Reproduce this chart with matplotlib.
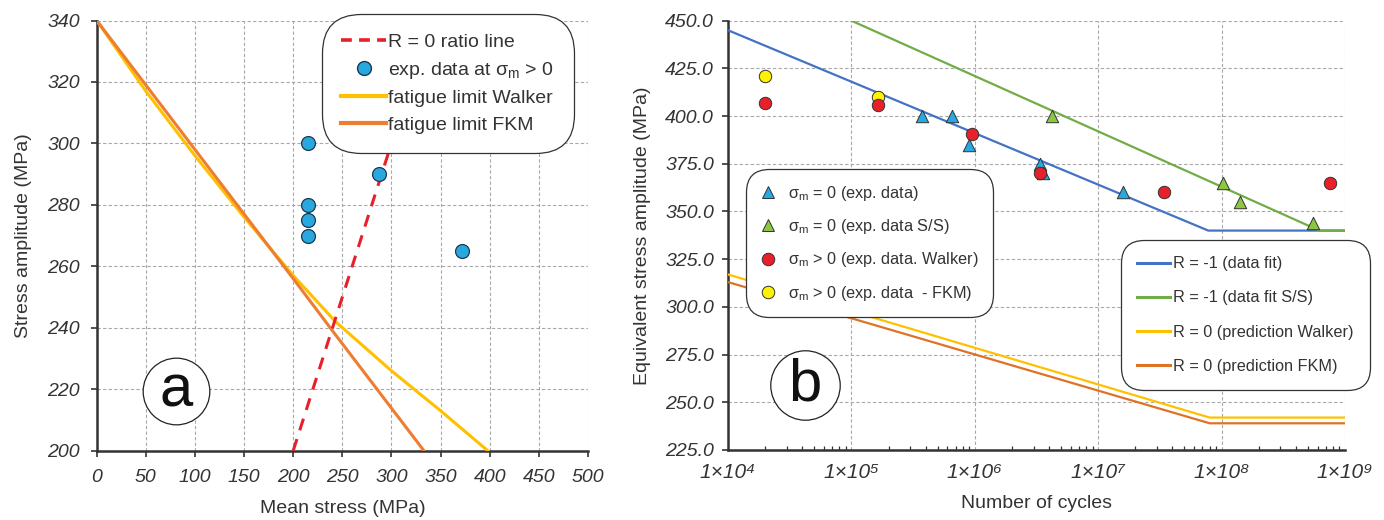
import math
import matplotlib.pyplot as plt
from matplotlib.lines import Line2D
import matplotlib.ticker as mticker

plt.rcParams['font.family'] = ['Liberation Sans', 'DejaVu Sans']
plt.rcParams['mathtext.fontset'] = 'custom'
plt.rcParams['mathtext.it'] = 'Liberation Sans:italic'
plt.rcParams['mathtext.rm'] = 'Liberation Sans'

# ---- panel a data ----
r0_mean = [200, 340]
r0_amp = [200, 340]
exp_mean = [215, 215, 215, 215, 287, 372]
exp_amp = [300, 280, 275, 270, 290, 265]
walker_mean = [0, 50, 100, 150, 200, 243, 300, 350, 398]
walker_amp = [340, 317, 296, 276, 257, 242, 226, 213, 200]
fkm_mean = [0, 100, 200, 240, 333]
fkm_amp = [340, 298, 256, 239, 200]

# ---- panel b data ----
fit_n = [1e4, 7.8e7, 1e9]
fit_s = [445, 340, 340]
fit_ss_n = [1e5, 6.2e8, 1e9]
fit_ss_s = [450, 340, 340]
walker_n = [1e4, 8e7, 1e9]
walker_s = [317, 242, 242]
fkm_n = [1e4, 8e7, 1e9]
fkm_s = [313, 239, 239]

tri_n = [3.7e5, 6.5e5, 9e5, 3.4e6, 3.6e6, 1.6e7]
tri_s = [400, 400, 385, 375, 370, 360]
tri_ss_n = [4.2e6, 1.02e8, 1.4e8, 5.5e8]
tri_ss_s = [400, 365, 355, 344]
red_n = [2e4, 1.65e5, 9.5e5, 3.4e6, 3.4e7, 7.5e8]
red_s = [407, 406, 390.5, 370, 360, 365]
yel_n = [2e4, 1.65e5]
yel_s = [421, 410]

SUP = str.maketrans('0123456789', '⁰¹²³⁴⁵⁶⁷⁸⁹')

W, H = 1384, 520
fig = plt.figure(figsize=(W / 100, H / 100), dpi=100)
ax1 = fig.add_axes([96.7 / W, 1 - 450.7 / H, (588 - 96.7) / W, (450.7 - 20.5) / H])
ax2 = fig.add_axes([728 / W, 1 - 450 / H, (1345 - 728) / W, (450 - 20.7) / H])

TXT = '#333333'
SM = r'σ$_{\mathregular{m}}$'


def style_axes(ax):
    for s in ['top', 'right']:
        ax.spines[s].set_visible(False)
    for s in ['left', 'bottom']:
        ax.spines[s].set_linewidth(1.8)
        ax.spines[s].set_color('#333333')
    ax.grid(True, linestyle=(0, (3, 2)), color='#a8a8a8', linewidth=0.8)
    ax.set_axisbelow(True)
    ax.tick_params(which='major', direction='out', length=4, width=1.2, colors=TXT,
                   labelsize=14)
    ax.tick_params(axis='y', pad=8)
    ax.tick_params(axis='x', pad=9)


def italic_ticks(ax):
    for lab in ax.get_xticklabels() + ax.get_yticklabels():
        lab.set_fontstyle('italic')
        lab.set_color(TXT)


def rounded(leg, r):
    fr = leg.get_frame()
    fr.set_boxstyle('round,pad=0,rounding_size=%s' % r)
    fr.set_linewidth(0.9)
    fr.set_edgecolor('#333333')


# ---- panel a ----
ax1.plot(walker_mean, walker_amp, color='#FFC000', lw=2.2, zorder=3)
ax1.plot(fkm_mean, fkm_amp, color='#ED7D31', lw=2.2, zorder=3)
ax1.plot(r0_mean, r0_amp, color='#E8202A', lw=2.2, ls=(0, (4, 3)), zorder=3)
ax1.scatter(exp_mean, exp_amp, s=100, color='#29A8E0', edgecolor='#1a3a50', lw=0.9, zorder=4)
ax1.set_xlim(0, 500)
ax1.set_ylim(200, 340)
ax1.set_xticks(range(0, 501, 50))
ax1.set_yticks(range(200, 341, 20))
style_axes(ax1)
ax1.set_xlabel('Mean stress (MPa)', fontsize=14, color=TXT, labelpad=10)
ax1.set_ylabel('Stress amplitude (MPa)', fontsize=14, color=TXT, labelpad=11)
ax1.plot([80.7], [219.4], marker='o', ms=48, mfc='white', mec='#222222', mew=0.9,
         ls='', zorder=6, clip_on=False)
ax1.text(80.7, 219.4, 'a', fontsize=43, ha='center', va='center', color='#111111', zorder=7)

h1 = [Line2D([], [], color='#E8202A', lw=2.6, ls=(0, (3, 2))),
      Line2D([], [], marker='o', ls='', ms=10, mfc='#29A8E0', mec='#1a3a50'),
      Line2D([], [], color='#FFC000', lw=3),
      Line2D([], [], color='#ED7D31', lw=3)]
l1 = ['R = 0 ratio line', 'exp. data at ' + SM + ' > 0', 'fatigue limit Walker',
      'fatigue limit FKM']
leg1 = fig.legend(h1, l1, loc='upper left', bbox_to_anchor=(322 / W, 1 - 14 / H),
                  borderaxespad=0, fontsize=14, frameon=True, framealpha=1,
                  handlelength=2.27, labelspacing=0.45, borderpad=1.0, handletextpad=0.15,
                  labelcolor=TXT)
rounded(leg1, 2.0)

# ---- panel b ----
ax2.set_xscale('log')
ax2.plot(fit_n, fit_s, color='#4472C4', lw=1.6, zorder=3)
ax2.plot(fit_ss_n, fit_ss_s, color='#70AD47', lw=1.6, zorder=3)
ax2.plot(walker_n, walker_s, color='#FFC000', lw=1.6, zorder=3)
ax2.plot(fkm_n, fkm_s, color='#DE7328', lw=1.6, zorder=3)
ax2.scatter(tri_n, tri_s, marker='^', s=80, color='#29A8E0', edgecolor='#333333', lw=0.7, zorder=4)
ax2.scatter(tri_ss_n, tri_ss_s, marker='^', s=80, color='#8DC63F', edgecolor='#333333', lw=0.7, zorder=4)
ax2.scatter(yel_n, yel_s, marker='o', s=80, color='#FFF200', edgecolor='#333333', lw=0.7, zorder=4)
ax2.scatter(red_n, red_s, marker='o', s=80, color='#E8202A', edgecolor='#333333', lw=0.7, zorder=4)
ax2.set_xlim(1e4, 1e9)
ax2.set_ylim(225, 450)
ax2.set_yticks([225 + 25 * i for i in range(10)])
ax2.yaxis.set_major_formatter(mticker.FormatStrFormatter('%.1f'))
ax2.xaxis.set_major_locator(mticker.LogLocator(base=10, numticks=10))
ax2.xaxis.set_major_formatter(mticker.FuncFormatter(
    lambda v, p: '1×10' + str(round(math.log10(v))).translate(SUP)))
ax2.xaxis.set_minor_locator(mticker.LogLocator(base=10, subs=range(2, 10), numticks=20))
ax2.xaxis.set_minor_formatter(mticker.NullFormatter())
style_axes(ax2)
ax2.tick_params(axis='y', pad=6)
ax2.tick_params(axis='x', which='minor', direction='in', length=3, width=0.9, colors=TXT)
ax2.tick_params(axis='x', which='major', length=0, pad=9, labelsize=15)
ax2.grid(False, which='minor')
ax2.set_xlabel('Number of cycles', fontsize=14, color=TXT, labelpad=10)
ax2.set_ylabel('Equivalent stress amplitude (MPa)', fontsize=14, color=TXT, labelpad=10)
ax2.plot([4.2e4], [259], marker='o', ms=50, mfc='white', mec='#222222', mew=0.9,
         ls='', zorder=6)
ax2.text(4.2e4, 259, 'b', fontsize=43, ha='center', va='center', color='#111111', zorder=7)

h2 = [Line2D([], [], marker='^', ls='', ms=9, mfc='#29A8E0', mec='#333333', mew=0.7),
      Line2D([], [], marker='^', ls='', ms=9, mfc='#8DC63F', mec='#333333', mew=0.7),
      Line2D([], [], marker='o', ls='', ms=9, mfc='#E8202A', mec='#333333', mew=0.7),
      Line2D([], [], marker='o', ls='', ms=9, mfc='#FFF200', mec='#333333', mew=0.7)]
l2 = [SM + ' = 0 (exp. data)', SM + ' = 0 (exp. data S/S)', SM + ' > 0 (exp. data. Walker)',
      SM + ' > 0 (exp. data  - FKM)']
leg2 = fig.legend(h2, l2, loc='upper left', bbox_to_anchor=(746 / W, 1 - 169 / H),
                  borderaxespad=0, fontsize=11.7, frameon=True, framealpha=1,
                  handlelength=0.9, labelspacing=0.88, borderpad=0.9, handletextpad=0.77,
                  labelcolor=TXT)
rounded(leg2, 1.4)

h3 = [Line2D([], [], color='#4472C4', lw=2.2), Line2D([], [], color='#70AD47', lw=2.2),
      Line2D([], [], color='#FFC000', lw=2.2), Line2D([], [], color='#DE7328', lw=2.2)]
l3 = ['R = -1 (data fit)', 'R = -1 (data fit S/S)', 'R = 0 (prediction Walker)',
      'R = 0 (prediction FKM)']
leg3 = fig.legend(h3, l3, loc='upper left', bbox_to_anchor=(1121 / W, 1 - 240 / H),
                  borderaxespad=0, fontsize=11.7, frameon=True, framealpha=1,
                  handlelength=2.0, labelspacing=1.18, borderpad=1.0, handletextpad=0.2,
                  labelcolor=TXT)
rounded(leg3, 1.4)

italic_ticks(ax1)
italic_ticks(ax2)

fig.savefig('out.png', dpi=100)
